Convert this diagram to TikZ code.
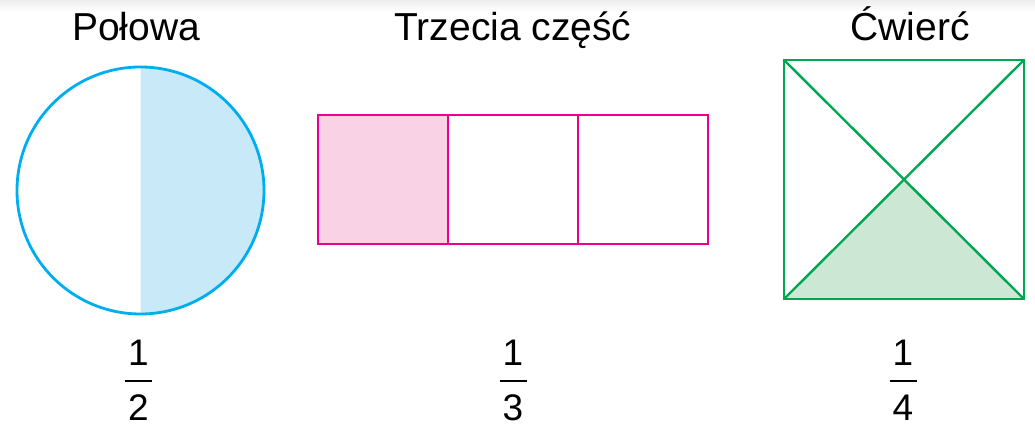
\documentclass[tikz,border=0pt]{standalone}
\usepackage{fontspec}
\setmainfont{Liberation Sans}
\usepackage{tikz}
\usetikzlibrary{calc}
\definecolor{halfcyan}{RGB}{0, 174, 239}
\definecolor{halffill}{RGB}{199, 233, 248}
\definecolor{thirdpink}{RGB}{236, 0, 140}
\definecolor{thirdfill}{RGB}{249, 211, 229}
\definecolor{quartgreen}{RGB}{0, 166, 81}
\definecolor{quartfill}{RGB}{204, 232, 212}

\begin{document}
\begin{tikzpicture}[
    x=0.5pt, y=0.5pt,
    title/.style={anchor=base, inner sep=0pt, font=\fontsize{19.5}{23}\selectfont},
    digit/.style={anchor=base, inner sep=0pt, font=\fontsize{18.5}{21}\selectfont},
    bar/.style={line width=1pt, black}
]
\useasboundingbox (0,0) rectangle (1035,426);
\shade[top color=gray!14, bottom color=white] (0,414) rectangle (1035,426);

% titles
\node[title] (t1) at (136,385) {Połowa};
\node[title] (t2) at (513,385) {Trzecia część};
\node[title] (t3) at (910,385) {Ćwierć};

% one half
\coordinate (c) at (140.5,235.5);
\fill[halffill] (140.5,112) arc[start angle=-90, end angle=90, radius=123.5] -- cycle;
\draw[halfcyan, line width=1.4pt] (c) circle[radius=123.5];

% one third
\coordinate (r0) at (318,182);
\coordinate (r1) at (448,311);
\coordinate (r2) at (578,311);
\coordinate (r3) at (708,311);
\fill[thirdfill] (r0) rectangle (r1);
\draw[thirdpink, line width=1.3pt] (r0) rectangle (r3);
\draw[thirdpink, line width=1.3pt] (r1) -- (r1 |- r0);
\draw[thirdpink, line width=1.3pt] (r2) -- (r2 |- r0);

% one quarter
\coordinate (sa) at (784,127);
\coordinate (sb) at (1024,127);
\coordinate (sc) at (1024,366);
\coordinate (sd) at (784,366);
\coordinate (sm) at (904,246.5);
\fill[quartfill] (sa) -- (sb) -- (sm) -- cycle;
\draw[quartgreen, line width=1.3pt] (sa) -- (sb) -- (sc) -- (sd) -- cycle;
\draw[quartgreen, line width=1.2pt] (sa) -- (sc) (sb) -- (sd);

% fractions
\node[digit] (n1) at (138.5,60) {1};
\node[digit] (d1) at (138.5,5) {2};
\draw[bar] ($(n1.base)+(-13.5,-15)$) -- ($(n1.base)+(13.5,-15)$);

\node[digit] (n2) at (513,60) {1};
\node[digit] (d2) at (513,5) {3};
\draw[bar] ($(n2.base)+(-13.5,-15)$) -- ($(n2.base)+(13.5,-15)$);

\node[digit] (n3) at (903,60) {1};
\node[digit] (d3) at (903,5) {4};
\draw[bar] ($(n3.base)+(-13.5,-15)$) -- ($(n3.base)+(13.5,-15)$);
\end{tikzpicture}
\end{document}
